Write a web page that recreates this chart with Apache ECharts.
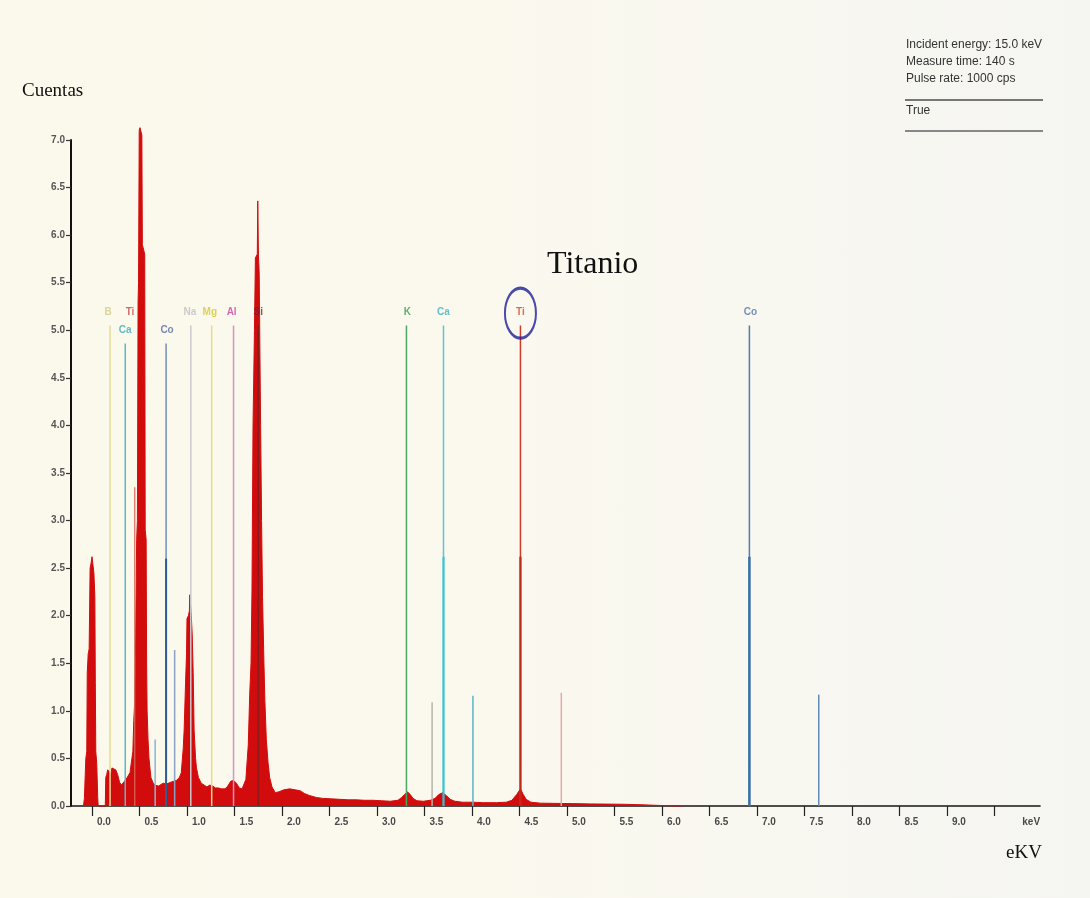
<!DOCTYPE html>
<html><head><meta charset="utf-8">
<script src="https://cdn.jsdelivr.net/npm/echarts@6/dist/echarts.min.js"></script>
<style>
html,body{margin:0;padding:0;background:#f6f6f2;}
#c{width:1090px;height:898px;background:linear-gradient(90deg,#fbf9ec 0%,#fbf9ee 45%,#f5f5f2 100%);}
</style>
</head><body><div id="c"></div>
<script>
// ---------- data ----------
const spectrumEnergy = [-0.09,-0.08,-0.065,-0.055,-0.05,-0.04,-0.03,-0.02,-0.01,0.0,0.01,0.02,0.03,0.035,0.04,0.05,0.06,0.065,
  0.14,0.145,0.155,0.165,0.18,0.2,0.21,0.23,0.25,0.27,0.29,0.31,0.33,0.35,0.37,0.39,0.40,0.42,0.43,0.44,0.45,0.46,0.47,0.478,0.485,0.49,0.497,0.505,0.515,0.525,0.53,0.545,0.555,0.56,0.57,0.575,0.58,0.59,0.6,0.62,0.64,0.66,0.68,0.70,0.72,0.75,0.78,0.80,0.83,0.86,0.89,0.92,0.94,0.96,0.97,0.985,0.995,1.0,1.015,1.025,1.03,1.04,1.045,1.055,1.065,1.075,1.09,1.1,1.12,1.15,1.18,1.21,1.24,1.27,1.3,1.33,1.36,1.4,1.43,1.46,1.49,1.52,1.55,1.58,1.6,1.62,1.635,1.645,1.66,1.674,1.684,1.695,1.71,1.72,1.74,1.745,1.752,1.76,1.775,1.785,1.795,1.81,1.82,1.835,1.853,1.87,1.895,1.93,1.97,2.02,2.08,2.14,2.19,2.24,2.29,2.36,2.43,2.52,2.61,2.7,2.78,2.87,2.96,3.05,3.14,3.22,3.26,3.29,3.32,3.35,3.38,3.42,3.49,3.56,3.61,3.65,3.69,3.73,3.77,3.82,3.9,4.01,4.12,4.26,4.36,4.42,4.47,4.51,4.54,4.57,4.62,4.72,4.85,5.06,5.25,5.42,5.6,5.8,6.0,6.2];
const spectrumCounts = [0,0.08,0.5,0.57,1.4,1.6,1.65,2.5,2.55,2.62,2.6,2.45,2.2,1.3,0.57,0.45,0.1,0,
  0,0.3,0.33,0.38,0.36,0.34,0.4,0.42,0.38,0.33,0.25,0.22,0.24,0.27,0.3,0.3,0.35,0.5,0.57,0.9,1.1,1.8,2.8,3.0,5.3,5.5,7.1,7.13,7.13,7.05,5.9,5.88,5.8,2.9,2.8,1.5,1.0,0.7,0.5,0.3,0.25,0.22,0.23,0.21,0.22,0.24,0.23,0.24,0.25,0.26,0.27,0.3,0.35,0.6,0.8,1.3,1.6,1.97,2.0,2.05,2.22,2.22,2.0,1.8,1.4,0.8,0.5,0.4,0.3,0.24,0.22,0.2,0.22,0.21,0.19,0.19,0.18,0.18,0.21,0.26,0.27,0.24,0.19,0.18,0.2,0.28,0.5,0.64,1.17,1.5,2.26,4.0,5.0,5.76,5.8,6.36,5.8,5.6,4.0,3.0,2.2,1.5,1.1,0.7,0.46,0.3,0.2,0.14,0.15,0.17,0.18,0.17,0.16,0.13,0.11,0.09,0.08,0.075,0.07,0.065,0.065,0.06,0.06,0.055,0.05,0.06,0.09,0.12,0.15,0.12,0.08,0.055,0.05,0.06,0.08,0.12,0.14,0.11,0.07,0.05,0.04,0.04,0.035,0.035,0.04,0.06,0.12,0.18,0.12,0.07,0.04,0.03,0.028,0.025,0.022,0.02,0.018,0.012,0.005,0];

// element marker lines (energy keV, height)
const markerEnergy = [0.19,0.35,0.45,0.78,1.04,1.26,1.49,1.75,3.31,3.70,4.51,6.92, 0.665,0.87,3.58,4.01,4.94,7.65, 0.78,3.70,4.51,6.92];
const markerHeight = [5.05,4.86,3.35,4.86,5.05,5.05,5.05,5.05,5.05,5.05,5.05,5.05, 0.7,1.64,1.09,1.16,1.19,1.17, 2.6,2.62,2.62,2.62];
// element labels
const labelNames  = ['B','Ti','Ca','Co','Na','Mg','Al','Si','K','Ca','Ti','Co'];
const labelEnergy = [0.17,0.40,0.35,0.79,1.03,1.24,1.47,1.75,3.32,3.70,4.51,6.93];
const labelHeight = [5.19,5.19,5.0,5.0,5.19,5.19,5.19,5.19,5.19,5.19,5.19,5.19];
// axis ticks
const xTickValues = [0,0.5,1,1.5,2,2.5,3,3.5,4,4.5,5,5.5,6,6.5,7,7.5,8,8.5,9,9.5];
const xLabelValues = [0,0.5,1,1.5,2,2.5,3,3.5,4,4.5,5,5.5,6,6.5,7,7.5,8,8.5,9,9.74];
const xLabelTexts = ['0.0','0.5','1.0','1.5','2.0','2.5','3.0','3.5','4.0','4.5','5.0','5.5','6.0','6.5','7.0','7.5','8.0','8.5','9.0','keV'];
const infoLines = ['Incident energy: 15.0 keV','Measure time: 140 s','Pulse rate: 1000 cps','True'];

// ---------- styles ----------
const markerColors = ['#e4dc98','#5ab8c8','#d86a5a','#7090bc','#c8c8ce','#e6dc88','#d890c8','#8a1a1a','#4aa860','#5cc4d4','#d03a2a','#4f7fb0',
  '#8ab4d4','#8aa0c4','#b4b6aa','#5ab4c8','#e2aaaa','#5f8cb8',
  '#2c5c90','#2cc4d8','#c02818','#3a6ea8'];
const markerWidths = [1.5,1.5,1.2,1.5,1.5,1.5,1.5,1.5,1.5,1.5,1.5,1.5, 1.5,1.5,1.5,1.5,1.5,1.5, 2,2,2.2,2.5];
const labelColors = ['#d0ca88','#c04848','#3aaabb','#5a6aa8','#bebec6','#d2c830','#d040a8','#7a2030','#3a9a50','#40b0c0','#d04a30','#5078a8'];

const chart = echarts.init(document.getElementById('c'), null, {renderer:'canvas'});

const spectrum = spectrumEnergy.map((e,i)=>[e, spectrumCounts[i]]);
const markers = markerEnergy.map((e,i)=>[e, markerHeight[i]]);
const labels = labelEnergy.map((e,i)=>({
  value:[e, labelHeight[i]],
  label:{formatter: labelNames[i], color: labelColors[i]}
}));

const tickFont = "'Liberation Sans Narrow','Liberation Sans',Arial,sans-serif";
const infoFont = "12px 'Liberation Sans',Arial";

chart.setOption({
  backgroundColor:'transparent',
  animation:false,
  grid:{left:71,right:50,top:140,bottom:92},
  title:[
    {text:'Cuentas', left:17, top:77, textStyle:{fontFamily:"'Liberation Serif','Times New Roman',serif",fontSize:19,fontWeight:'normal',color:'#111'}},
    {text:'eKV', left:1001, top:839, textStyle:{fontFamily:"'Liberation Serif','Times New Roman',serif",fontSize:19,fontWeight:'normal',color:'#111'}},
    {text:'Titanio', left:542, top:244, textStyle:{fontFamily:"'Liberation Serif','Times New Roman',serif",fontSize:32,fontWeight:'normal',color:'#111'}}
  ],
  xAxis:{
    type:'value', min:-0.221, max:9.979,
    axisLine:{show:true,onZero:false,lineStyle:{color:'#161616',width:1.6}},
    axisTick:{show:true,customValues:xTickValues,length:10,lineStyle:{color:'#222',width:1.2}},
    axisLabel:{customValues:xLabelValues,formatter:(v)=>{const i=xLabelValues.indexOf(v);return i>=0?xLabelTexts[i]:'';},
      align:'left',padding:[0,0,0,5],margin:11,fontSize:10,fontWeight:'bold',color:'#4a4a4a',fontFamily:tickFont},
    splitLine:{show:false}
  },
  yAxis:{
    type:'value', min:0, max:7, interval:0.5,
    axisLine:{show:true,onZero:false,lineStyle:{color:'#111',width:2}},
    axisTick:{show:true,length:5,lineStyle:{color:'#333',width:1.2}},
    axisLabel:{formatter:(v)=>v.toFixed(1),margin:6,fontSize:10,fontWeight:'bold',color:'#555',fontFamily:tickFont,padding:[0,0,6,0]},
    splitLine:{show:false}
  },
  series:[
    {
      type:'line', data:spectrum, showSymbol:false, clip:false, z:2,
      lineStyle:{color:'#d20c0c',width:1},
      areaStyle:{color:'#d20c0c',opacity:1}
    },
    {
      type:'custom', data:markers, z:3, clip:false,
      renderItem:(params, api)=>{
        const p0 = api.coord([api.value(0),0]);
        const p1 = api.coord([api.value(0),api.value(1)]);
        return {type:'line', shape:{x1:p0[0],y1:p0[1],x2:p1[0],y2:p1[1]},
          style:{stroke:markerColors[params.dataIndex],lineWidth:markerWidths[params.dataIndex]}};
      }
    },
    {
      type:'scatter', data:labels, symbolSize:0, z:4, silent:true,
      label:{show:true,position:'inside',fontSize:10,fontWeight:'bold',fontFamily:"'Liberation Sans',Arial,sans-serif"}
    },
    {
      type:'scatter', data:[[4.51,5.18]], symbol:'circle', symbolSize:[31,50], z:5, silent:true,
      itemStyle:{color:'rgba(0,0,0,0)',borderColor:'#1e1e96',borderWidth:2.5}
    }
  ],
  graphic:[
    {type:'text',left:906,top:39,style:{text:infoLines[0],font:infoFont,fill:'#333'}},
    {type:'text',left:906,top:56,style:{text:infoLines[1],font:infoFont,fill:'#333'}},
    {type:'text',left:906,top:73,style:{text:infoLines[2],font:infoFont,fill:'#333'}},
    {type:'line',shape:{x1:905,y1:100,x2:1043,y2:100},style:{stroke:'#777',lineWidth:2}},
    {type:'text',left:906,top:105,style:{text:infoLines[3],font:infoFont,fill:'#333'}},
    {type:'line',shape:{x1:905,y1:131,x2:1043,y2:131},style:{stroke:'#888',lineWidth:2}}
  ]
});
</script>
</body></html>
